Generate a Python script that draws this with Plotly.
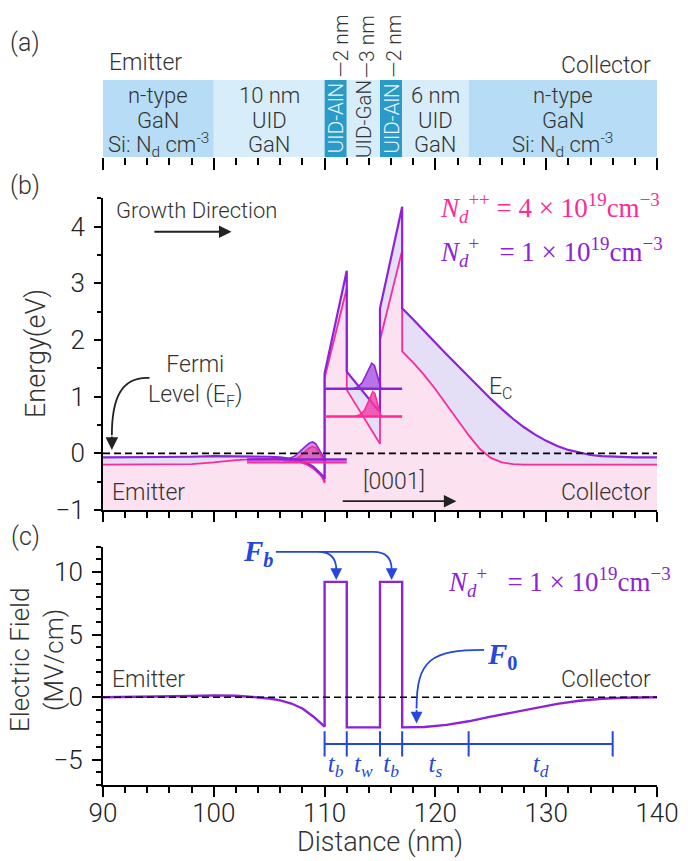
import plotly.graph_objects as go

# ---------------- data ----------------
# panel (a): layer stack
layer_edges = [90, 100, 110, 112, 115, 117, 123, 140]
layer_lines = [
    ["n-type", "GaN", "Si: N<sub>d</sub> cm<sup>-3</sup>"],
    ["10 nm", "UID", "GaN"],
    ["UID-AlN"],
    ["UID-GaN"],
    ["UID-AlN"],
    ["6 nm", "UID", "GaN"],
    ["n-type", "GaN", "Si: N<sub>d</sub> cm<sup>-3</sup>"],
]
thickness_labels = ["—2 nm", "—3 nm", "—2 nm"]
thickness_x = [111.4, 113.8, 116.2]

# panel (b): conduction band, N_d^+ = 1e19 (purple)
x_ec_lo = [90, 94, 98, 100, 102, 104, 105, 106, 106.5, 107, 107.5, 108, 108.5, 109, 109.5, 109.8, 110,
           110, 112, 112, 115, 115, 117, 117,
           118, 119, 120, 121, 122, 123, 124, 125, 126, 127, 128, 129, 130, 131, 132, 133, 134, 135, 136,
           138, 140]
ec_lo = [-0.07, -0.07, -0.06, -0.05, -0.05, -0.05, -0.06, -0.07, -0.08, -0.09, -0.11, -0.14, -0.18, -0.24, -0.33, -0.39, -0.45,
         1.41, 3.22, 1.44, 0.72, 2.56, 4.35, 2.56,
         2.36, 2.15, 1.95, 1.75, 1.55, 1.35, 1.15, 0.96, 0.78, 0.61, 0.46, 0.33, 0.22, 0.13, 0.06, 0.01, -0.03, -0.05, -0.06,
         -0.07, -0.07]

# conduction band, N_d^++ = 4e19 (pink)
x_ec_hi = [90, 94, 98, 100, 102, 104, 106, 107, 107.5, 108, 108.5, 109, 109.5, 109.8, 110,
           110, 112, 112, 115, 115, 117, 117,
           118, 119, 120, 121, 122, 123, 124, 125, 126, 127, 128,
           130, 135, 140]
ec_hi = [-0.2, -0.2, -0.19, -0.16, -0.12, -0.1, -0.1, -0.12, -0.14, -0.17, -0.21, -0.27, -0.36, -0.43, -0.52,
         1.33, 2.91, 1.12, 0.17, 2.0, 3.58, 1.8,
         1.6, 1.38, 1.13, 0.86, 0.58, 0.32, 0.08, -0.08, -0.16, -0.19, -0.2,
         -0.2, -0.2, -0.2]

# bound-state levels [x_start, x_end, energy]
emit_level_lo = [103, 112, -0.11]
emit_level_hi = [103, 112, -0.16]
well_level_lo = [110, 117, 1.14]
well_level_hi = [110, 117, 0.65]

# wavefunction outlines
x_wf_emit = [106.3, 106.8, 107.3, 107.8, 108.2, 108.6, 108.9, 109.2, 109.5, 109.8, 110.0]
wf_emit_lo = [-0.11, -0.09, -0.05, 0.03, 0.11, 0.18, 0.20, 0.17, 0.08, -0.03, -0.11]
wf_emit_hi = [-0.16, -0.15, -0.11, -0.05, 0.02, 0.09, 0.12, 0.10, 0.02, -0.08, -0.16]
x_wf_well_lo = [112.6, 113.0, 113.4, 113.7, 114.0, 114.25, 114.5, 114.7, 114.9, 115.1]
wf_well_lo = [1.14, 1.17, 1.25, 1.37, 1.51, 1.59, 1.55, 1.42, 1.25, 1.14]
x_wf_well_hi = [112.7, 113.2, 113.6, 113.9, 114.15, 114.35, 114.55, 114.75, 114.95, 115.15]
wf_well_hi = [0.65, 0.68, 0.76, 0.88, 1.01, 1.09, 1.05, 0.90, 0.74, 0.65]

# panel (c): electric field, N_d^+
x_field = [90, 95, 98, 100, 102, 104, 105, 106, 107, 108, 108.5, 109, 109.5, 110,
           110, 112, 112, 115, 115, 117, 117,
           119, 121, 123, 125, 127, 129, 131, 133, 135, 137, 140]
field = [0.0, 0.04, 0.1, 0.15, 0.12, -0.02, -0.1, -0.25, -0.5, -0.9, -1.2, -1.55, -1.95, -2.35,
         9.2, 9.2, -2.4, -2.4, 9.2, 9.2, -2.4,
         -2.37, -2.2, -1.92, -1.55, -1.2, -0.85, -0.53, -0.28, -0.12, -0.04, 0.0]

t_edges = [110, 112, 115, 117, 123, 136]
t_names = ["b", "w", "b", "s", "d"]

# ---------------- style ----------------
PURPLE = "#8C22DA"
PINK = "#FF2A97"
PINK_FILL = "#FCE1F0"
LAV_FILL = "#E5DEF7"
BLUE = "#2547DE"
GRAY = "#333333"
SANS = "Roboto"
SW = 300  # light weight
SERIF = "Liberation Serif"
NTYPE = "#B6DDF5"
UID = "#D8EDFA"
ALN = "#2A9BC8"
layer_colors = [NTYPE, UID, ALN, UID, ALN, UID, NTYPE]

W, H = 699, 861
L, R = 103, 42


def dom(top_px, bot_px):
    return [1 - bot_px / H, 1 - top_px / H]


def sfont(size, color=GRAY):
    return dict(family=SANS, size=size, color=color, weight=SW)


fig = go.Figure()

# ---- panel b fills ----
fig.add_trace(go.Scatter(x=x_ec_lo + [140, 90], y=ec_lo + [-1, -1], fill="toself", fillcolor=LAV_FILL,
                         mode="lines", line=dict(width=0), xaxis="x2", yaxis="y2"))
fig.add_trace(go.Scatter(x=x_ec_hi + [140, 90], y=ec_hi + [-1, -1], fill="toself", fillcolor=PINK_FILL,
                         mode="lines", line=dict(width=0), xaxis="x2", yaxis="y2"))
# band lines
fig.add_trace(go.Scatter(x=x_ec_hi, y=ec_hi, mode="lines", line=dict(color=PINK, width=1.8),
                         xaxis="x2", yaxis="y2"))
fig.add_trace(go.Scatter(x=x_ec_lo, y=ec_lo, mode="lines", line=dict(color=PURPLE, width=2.2),
                         xaxis="x2", yaxis="y2"))


def wf(xs, ys, fillc, linec):
    fig.add_trace(go.Scatter(x=xs, y=ys, fill="toself", fillcolor=fillc, mode="lines",
                             line=dict(color=linec, width=1.6), xaxis="x2", yaxis="y2"))


wf(x_wf_emit, wf_emit_lo, "rgba(150,60,205,0.55)", PURPLE)
wf(x_wf_emit, wf_emit_hi, "rgba(235,60,160,0.55)", PINK)
wf(x_wf_well_lo, wf_well_lo, "rgba(160,70,220,0.75)", PURPLE)
wf(x_wf_well_hi, wf_well_hi, "rgba(242,60,165,0.8)", PINK)

for lev, col in [(emit_level_lo, PURPLE), (emit_level_hi, PINK), (well_level_lo, PURPLE), (well_level_hi, PINK)]:
    fig.add_trace(go.Scatter(x=[lev[0], lev[1]], y=[lev[2], lev[2]], mode="lines",
                             line=dict(color=col, width=2.4), xaxis="x2", yaxis="y2"))

# Fermi level
fig.add_trace(go.Scatter(x=[90, 140], y=[0, 0], mode="lines", line=dict(color="black", width=1.6, dash="7px,4px"),
                         xaxis="x2", yaxis="y2"))

# ---- panel c ----
fig.add_trace(go.Scatter(x=x_field, y=field, mode="lines", line=dict(color=PURPLE, width=2.4),
                         xaxis="x3", yaxis="y3"))
fig.add_trace(go.Scatter(x=[90, 140], y=[0, 0], mode="lines", line=dict(color="black", width=1.6, dash="7px,4px"),
                         xaxis="x3", yaxis="y3"))
fig.add_trace(go.Scatter(x=t_edges, y=[-3.72] * len(t_edges), mode="lines+markers",
                         line=dict(color=BLUE, width=2),
                         marker=dict(symbol="line-ns", size=18, line=dict(color=BLUE, width=2)),
                         xaxis="x3", yaxis="y3"))
t_mid = [(a + b) / 2 for a, b in zip(t_edges[:-1], t_edges[1:])]
fig.add_trace(go.Scatter(x=t_mid, y=[-5.45] * len(t_mid), mode="text",
                         text=[f"<i>t</i><sub><i>{n}</i></sub>" for n in t_names],
                         textfont=dict(family=SERIF, size=25, color=BLUE),
                         xaxis="x3", yaxis="y3"))

# ---- panel a shapes ----
shapes = []
for i, col in enumerate(layer_colors):
    shapes.append(dict(type="rect", xref="x", yref="y", x0=layer_edges[i], x1=layer_edges[i + 1],
                       y0=0, y1=1, fillcolor=col, line=dict(width=0), layer="below"))

# curved arrows
shapes.append(dict(type="path", xref="x2", yref="y2",
                   path="M 94.2,1.33 C 91.6,1.36 90.8,0.95 90.8,0.32",
                   line=dict(color="#222222", width=1.8)))
shapes.append(dict(type="path", xref="x3", yref="y3",
                   path="M 105.6,11.6 L 109.4,11.6 Q 111.05,11.6 111.05,10.2 M 109.4,11.6 L 114.4,11.6 Q 116.05,11.6 116.05,10.2",
                   line=dict(color=BLUE, width=1.8)))
shapes.append(dict(type="path", xref="x3", yref="y3",
                   path="M 124.4,3.78 C 119.6,3.78 118.3,3.0 118.3,-0.9",
                   line=dict(color=BLUE, width=1.8)))

ann = []
# layer texts
line_y = [0.805, 0.48, 0.156]
for i, lines in enumerate(layer_lines):
    xm = (layer_edges[i] + layer_edges[i + 1]) / 2
    if len(lines) == 1:
        ann.append(dict(x=xm, y=0.5, xref="x", yref="y", text=lines[0], showarrow=False, textangle=-90,
                        font=sfont(20.5, "#EAF5FC" if "AlN" in lines[0] else GRAY)))
    else:
        for t, yy in zip(lines, line_y):
            ann.append(dict(x=xm, y=yy, xref="x", yref="y", text=t, showarrow=False, font=sfont(22)))
for t, xx in zip(thickness_labels, thickness_x):
    ann.append(dict(x=xx, y=1.0, xref="x", yref="y", text=t, showarrow=False, textangle=-90,
                    yanchor="bottom", font=sfont(21)))

# panel b texts
ann += [
    dict(x=98.45, y=4.29, xref="x2", yref="y2", text="Growth Direction", showarrow=False, font=sfont(22)),
    dict(x=101.6, y=3.91, ax=94.5, ay=3.91, xref="x2", yref="y2", axref="x2", ayref="y2", text="",
         showarrow=True, arrowhead=2, arrowsize=1.4, arrowwidth=1.8, arrowcolor="#222222"),
    dict(x=98.3, y=1.28, xref="x2", yref="y2", text="Fermi<br>Level (E<sub>F</sub>)", showarrow=False,
         font=sfont(23)),
    dict(x=90.8, y=0.06, ax=0, ay=-15, xref="x2", yref="y2", text="", showarrow=True,
         arrowhead=2, arrowsize=1.4, arrowwidth=1.8, arrowcolor="#222222"),
    dict(x=116.3, y=-0.49, xref="x2", yref="y2", text="[0001]", showarrow=False, font=sfont(23)),
    dict(x=121.9, y=-0.845, ax=111.5, ay=-0.845, xref="x2", yref="y2", axref="x2", ayref="y2", text="",
         showarrow=True, arrowhead=2, arrowsize=1.4, arrowwidth=1.8, arrowcolor="#222222"),
    dict(x=90.6, y=-0.70, xref="x2", yref="y2", text="Emitter", showarrow=False, xanchor="left", font=sfont(23)),
    dict(x=139.6, y=-0.70, xref="x2", yref="y2", text="Collector", showarrow=False, xanchor="right",
         font=sfont(23)),
    dict(x=125.9, y=1.15, xref="x2", yref="y2", text="E<sub>C</sub>", showarrow=False, font=sfont(23)),
    dict(x=120.2, y=4.32, xref="x2", yref="y2", xanchor="left",
         text="<i>N</i><sub><i>d</i></sub><sup>++</sup> = 4 × 10<sup>19</sup>cm<sup>−3</sup>", showarrow=False,
         font=dict(family=SERIF, size=27, color=PINK)),
    dict(x=120.2, y=3.56, xref="x2", yref="y2", xanchor="left",
         text="<i>N</i><sub><i>d</i></sub><sup>+</sup>   = 1 × 10<sup>19</sup>cm<sup>−3</sup>", showarrow=False,
         font=dict(family=SERIF, size=27, color=PURPLE)),
]

# panel c texts
ann += [
    dict(x=104.0, y=11.5, xref="x3", yref="y3", text="<b><i>F</i></b><sub><b><i>b</i></b></sub>", showarrow=False,
         font=dict(family=SERIF, size=29, color=BLUE)),
    dict(x=111.05, y=9.35, ax=0, ay=-13, xref="x3", yref="y3", text="", showarrow=True,
         arrowhead=2, arrowsize=1.3, arrowwidth=1.8, arrowcolor=BLUE),
    dict(x=116.05, y=9.35, ax=0, ay=-13, xref="x3", yref="y3", text="", showarrow=True,
         arrowhead=2, arrowsize=1.3, arrowwidth=1.8, arrowcolor=BLUE),
    dict(x=126.0, y=3.3, xref="x3", yref="y3", text="<b><i>F</i></b><sub><b>0</b></sub>", showarrow=False,
         font=dict(family=SERIF, size=29, color=BLUE)),
    dict(x=118.3, y=-2.1, ax=0, ay=-15, xref="x3", yref="y3", text="", showarrow=True,
         arrowhead=2, arrowsize=1.3, arrowwidth=1.8, arrowcolor=BLUE),
    dict(x=121.0, y=9.22, xref="x3", yref="y3", xanchor="left",
         text="<i>N</i><sub><i>d</i></sub><sup>+</sup>   = 1 × 10<sup>19</sup>cm<sup>−3</sup>", showarrow=False,
         font=dict(family=SERIF, size=27, color=PURPLE)),
    dict(x=90.6, y=1.38, xref="x3", yref="y3", text="Emitter", showarrow=False, xanchor="left", font=sfont(23)),
    dict(x=139.6, y=1.38, xref="x3", yref="y3", text="Collector", showarrow=False, xanchor="right",
         font=sfont(23)),
]

# axis titles and panel labels
plotw = W - L - R


def px_x(px):
    return (px - L) / plotw


def paper_text(xpx, ypx, text, size, angle=0, xanchor="center"):
    return dict(x=px_x(xpx), y=1 - ypx / H, xref="paper", yref="paper", text=text, textangle=angle,
                xanchor=xanchor, yanchor="middle", showarrow=False, font=sfont(size))


ann += [
    paper_text(36, 354, "Energy(eV)", 27, -90),
    paper_text(37, 660, "Electric Field<br>(MV/cm)", 26, -90),
    paper_text(380, 842, "Distance (nm)", 27),
    paper_text(25, 42, "(a)", 25),
    paper_text(25, 185, "(b)", 25),
    paper_text(25, 536, "(c)", 25),
    paper_text(107, 63, "Emitter", 23, xanchor="left"),
    paper_text(653, 65, "Collector", 23, xanchor="right"),
]

tickfont = dict(family=SANS, size=26, color="#222222", weight=SW)
common_x = dict(range=[90, 140], showgrid=False, zeroline=False, dtick=10, tick0=90, ticks="outside",
                tickwidth=2, tickcolor="black", automargin=False)

fig.update_layout(
    width=W, height=H, margin=dict(l=L, r=R, t=0, b=0, pad=0, autoexpand=False),
    paper_bgcolor="white", plot_bgcolor="rgba(0,0,0,0)", showlegend=False, hovermode=False,
    xaxis=dict(common_x, domain=[0, 1], anchor="y", showline=False, ticklen=12, showticklabels=False,
               minor=dict(dtick=2, ticklen=7, tickwidth=2, tickcolor="black", ticks="outside")),
    yaxis=dict(domain=dom(80, 157), range=[0, 1], visible=False, automargin=False),
    xaxis2=dict(common_x, domain=[0, 1], anchor="y2", showline=True, linecolor="black", linewidth=2,
                ticklen=10, showticklabels=False,
                minor=dict(dtick=2, ticklen=6, tickwidth=2, tickcolor="black", ticks="outside")),
    yaxis2=dict(domain=dom(198.3, 510), range=[-1, 4.5], anchor="x2", showgrid=False, zeroline=False,
                showline=True, linecolor="black", linewidth=2, tickvals=[-1, 0, 1, 2, 3, 4],
                ticks="outside", ticklen=7, tickwidth=2, tickcolor="black", tickfont=tickfont,
                ticklabelstandoff=4, automargin=False,
                minor=dict(dtick=0.5, tick0=0, ticklen=4, tickwidth=2, tickcolor="black", ticks="outside")),
    xaxis3=dict(common_x, domain=[0, 1], anchor="y3", showline=True, linecolor="black", linewidth=2,
                ticklen=10, showticklabels=True, tickfont=tickfont, ticklabelstandoff=-6,
                minor=dict(dtick=2, ticklen=6, tickwidth=2, tickcolor="black", ticks="outside")),
    yaxis3=dict(domain=dom(546.8, 785), range=[-7, 12], anchor="x3", showgrid=False, zeroline=False,
                showline=True, linecolor="black", linewidth=2, tickvals=[-5, 0, 5, 10],
                ticks="outside", ticklen=9, tickwidth=2, tickcolor="black", tickfont=tickfont,
                ticklabelstandoff=4, automargin=False,
                minor=dict(dtick=1, tick0=0, ticklen=5, tickwidth=2, tickcolor="black", ticks="outside")),
    shapes=shapes,
    annotations=ann,
)

fig.write_html("out.html", config={"displayModeBar": False},
               post_script="document.body.style.margin='0';")
